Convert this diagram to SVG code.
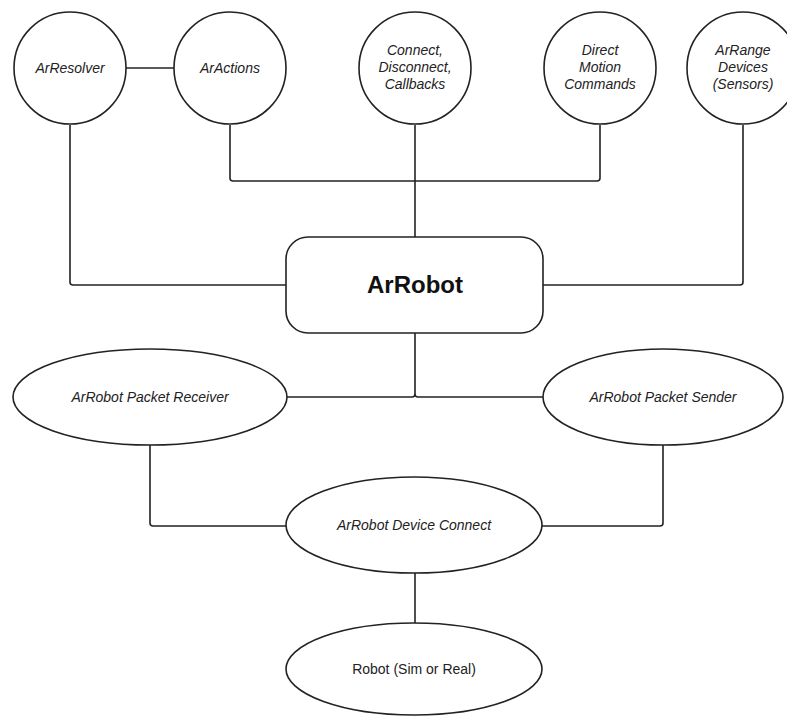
<svg xmlns="http://www.w3.org/2000/svg" width="787" height="717" viewBox="0 0 787 717">
<style>
.s{fill:#fff;stroke:#222;stroke-width:1.6}
.c{fill:none;stroke:#222;stroke-width:1.6;stroke-linejoin:round}
.t{font-family:"Liberation Sans",Arial,sans-serif;font-size:14px;font-style:italic;fill:#222;text-anchor:middle}
.n{font-family:"Liberation Sans",Arial,sans-serif;font-size:14px;fill:#222;text-anchor:middle}
.b{font-family:"Liberation Sans",Arial,sans-serif;font-size:24px;font-weight:bold;fill:#111;text-anchor:middle}
</style>
<rect width="787" height="717" fill="#fff"/>
<g id="connectors">
<path class="c" d="M126 68H174"/>
<path class="c" d="M70 125V282Q70 285 73 285H286"/>
<path class="c" d="M230 125V178Q230 181 233 181H597Q600 181 600 178V125"/>
<path class="c" d="M415 125V237"/>
<path class="c" d="M743 125V282Q743 285 740 285H543"/>
<path class="c" d="M415 333V394Q415 397 412 397H287M415 394Q415 397 418 397H543"/>
<path class="c" d="M150 445V523Q150 526 153 526H286"/>
<path class="c" d="M663 445V523Q663 526 660 526H542"/>
<path class="c" d="M415 573V623"/>
</g>
<g id="arresolver"><circle class="s" cx="70" cy="68" r="56"/><text class="t" x="70" y="73">ArResolver</text></g>
<g id="aractions"><circle class="s" cx="230" cy="68" r="56"/><text class="t" x="230" y="73">ArActions</text></g>
<g id="connect"><circle class="s" cx="415" cy="68" r="56"/><text class="t" x="415" y="55">Connect,</text><text class="t" x="415" y="72">Disconnect,</text><text class="t" x="415" y="89">Callbacks</text></g>
<g id="direct"><circle class="s" cx="600" cy="68" r="56"/><text class="t" x="600" y="55">Direct</text><text class="t" x="600" y="72">Motion</text><text class="t" x="600" y="89">Commands</text></g>
<g id="arrange"><circle class="s" cx="743" cy="68" r="56"/><text class="t" x="743" y="55">ArRange</text><text class="t" x="743" y="72">Devices</text><text class="t" x="743" y="89">(Sensors)</text></g>
<g id="arrobot"><rect class="s" x="286" y="237" width="257" height="96" rx="22"/><text class="b" x="415" y="293">ArRobot</text></g>
<g id="receiver"><ellipse class="s" cx="150" cy="397" rx="137" ry="48"/><text class="t" x="150" y="402">ArRobot Packet Receiver</text></g>
<g id="sender"><ellipse class="s" cx="663" cy="397" rx="120" ry="48"/><text class="t" x="663" y="402">ArRobot Packet Sender</text></g>
<g id="deviceconnect"><ellipse class="s" cx="414" cy="525" rx="128" ry="48"/><text class="t" x="414" y="530">ArRobot Device Connect</text></g>
<g id="robot"><ellipse class="s" cx="414" cy="669" rx="128" ry="46"/><text class="n" x="414" y="674">Robot (Sim or Real)</text></g>
</svg>
